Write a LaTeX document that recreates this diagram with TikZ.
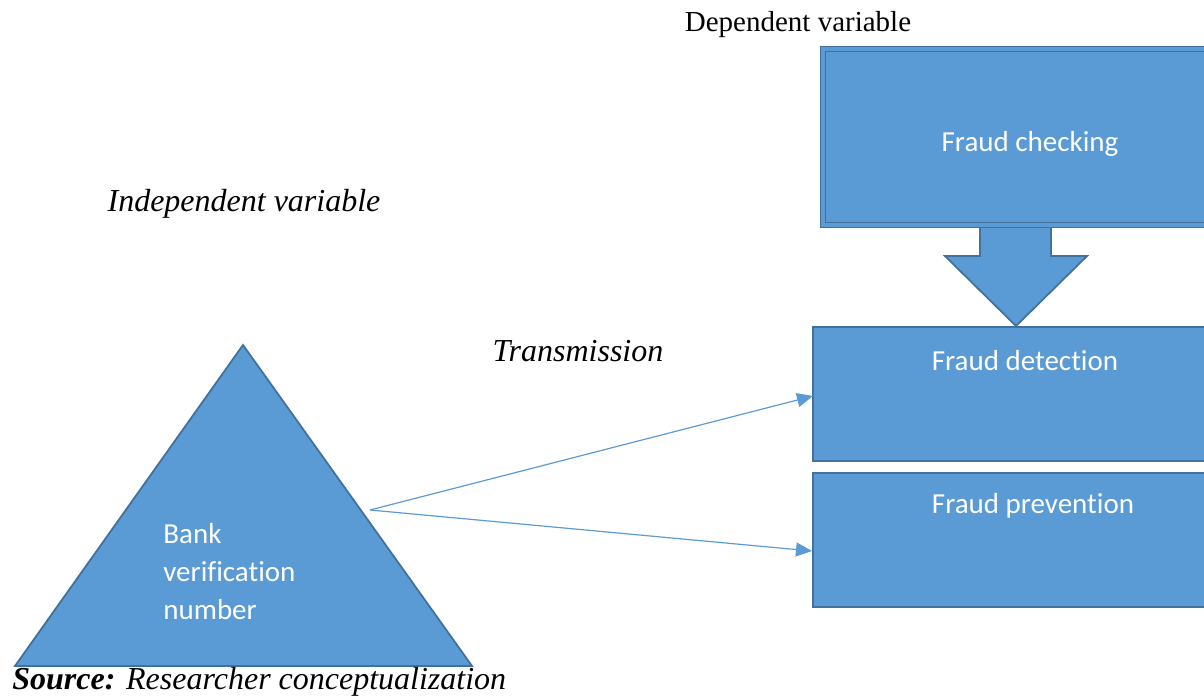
\documentclass[tikz,border=0pt]{standalone}
\usepackage{fontspec}
\setmainfont{Liberation Serif}
\newfontfamily\boxfont[Ligatures=NoCommon]{Carlito}
\usetikzlibrary{arrows.meta,positioning,calc}
\definecolor{BoxFill}{HTML}{5B9BD5}
\definecolor{BoxEdge}{HTML}{41719C}
\tikzset{
  varbox/.style={draw=BoxEdge,fill=BoxFill,line width=0.9pt,anchor=north west,
                 inner sep=0pt,outer sep=0pt,minimum width=212pt,minimum height=67pt},
  boxtext/.style={text=white,font=\boxfont\fontsize{14.5}{19}\selectfont},
  heading/.style={font=\fontsize{14.5}{17}\selectfont},
  slanted/.style={inner sep=0pt,font=\fontsize{16}{19}\selectfont\itshape},
  link/.style={-{Triangle[length=8pt,width=7pt]},draw=BoxFill,line width=0.6pt}
}
\begin{document}
\begin{tikzpicture}[x=0.5pt,y=-0.5pt]
  \useasboundingbox (0,0) rectangle (1204,696);
  \clip (0,0) rectangle (1204,696);
  % Dependent side.
  \node[heading] (deplabel) at (798,25) {Dependent variable};
  \node[varbox,double=BoxFill,double distance=2pt,line width=0.6pt,
        minimum width=208pt,minimum height=88pt] (check) at (823,49) {};
  \node[boxtext] (checktext) at (1030,144) {Fraud checking};
  \node[varbox] (detect) at (813,327) {};
  \node[boxtext] (detecttext) at (1025,361) {Fraud detection};
  \node[varbox] (prevent) at (813,473) {};
  \node[boxtext] (preventtext) at (1033,506) {Fraud prevention};
  % Block arrow from checking to detection.
  \draw[draw=BoxEdge,fill=BoxFill,line width=0.9pt]
        (980,228) -- (980,256) -- (945,256) -- (1016,326) -- (1087,256)
        -- (1051,256) -- (1051,228);
  % Independent side.
  \node[slanted] (indlabel) at (244,204) {Independent variable};
  \draw[draw=BoxEdge,fill=BoxFill,line width=0.9pt]
        (243,345) -- (472,666) -- (15,666) -- cycle;
  \node[boxtext,anchor=west,align=left,inner sep=0pt] (bvn) at (163,572)
        {Bank\\verification\\number};
  \coordinate (source) at (370,510);
  % Transmission arrows.
  \node[slanted] (trans) at (578,351) {Transmission};
  \draw[link] (source) -- ($(detect.west)+(0,2)$);
  \draw[link] (source) -- ($(prevent.west)+(-1,11)$);
  % Source line.
  \node[slanted,anchor=west] (srcline) at (12,682)
        {\textbf{Source:} Researcher conceptualization};
\end{tikzpicture}
\end{document}
